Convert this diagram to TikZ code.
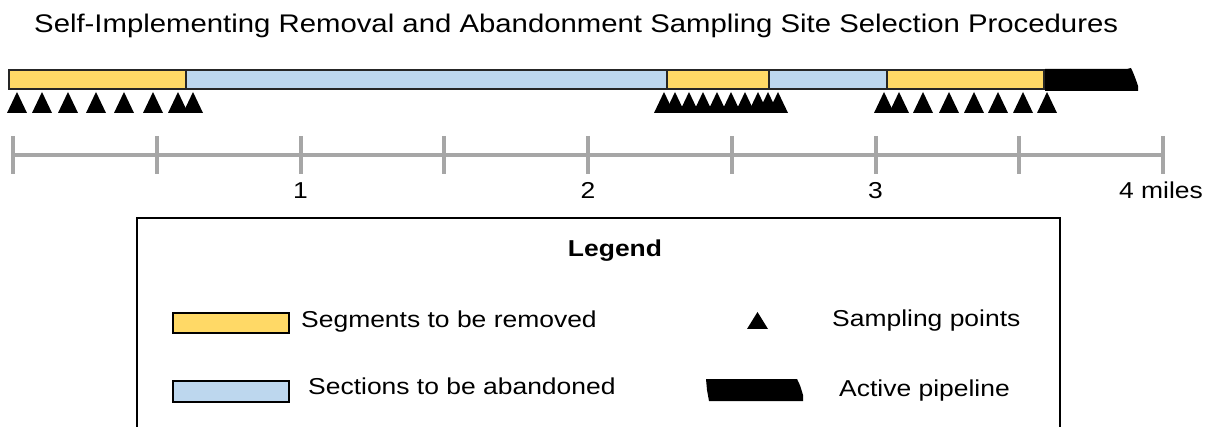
\documentclass[tikz,border=0pt]{standalone}
\usepackage{fontspec}
\setmainfont{Liberation Sans}
\usepackage{graphicx}
\usepackage{tikz}
\usetikzlibrary{positioning,calc}
\definecolor{remyellow}{HTML}{FFD966}
\definecolor{abnblue}{HTML}{BDD7EE}
\definecolor{scalegray}{HTML}{A6A6A6}
\newcommand{\wide}[1]{\scalebox{1.15}[1]{#1}}
\tikzset{
  txt/.style={font=\fontsize{23}{27}\selectfont, inner sep=0pt},
  remseg/.style={fill=remyellow, draw=black!85, line width=2pt},
  abnseg/.style={fill=abnblue, draw=black!85, line width=2pt},
  scaletick/.style={draw=scalegray, line width=4pt},
}

\begin{document}
\begin{tikzpicture}[x=1pt,y=-1pt]
    \useasboundingbox (0,0) rectangle (1207,427);
    \node [txt, font=\fontsize{25.5}{30}\selectfont, anchor=base west] (title) at (34,33) {\wide{Self-Implementing Removal and Abandonment Sampling Site Selection Procedures}};

    % pipeline
    \filldraw [remseg] (9,70) rectangle (186,89);
    \filldraw [abnseg] (186,70) rectangle (667,89);
    \filldraw [remseg] (667,70) rectangle (769,89);
    \filldraw [abnseg] (769,70) rectangle (887,89);
    \filldraw [remseg] (887,70) rectangle (1044,89);
    \fill (1045,69) -- (1127,69) -- (1131,68) .. controls (1134,74) and (1136,80) .. (1138,86) -- (1138,91) -- (1045,91) -- cycle;

    % sampling points
    \foreach \x in {17,42,68,96,124,153,178,193,
                    664,675,689,703,717,731,745,758,768,778,
                    884,899,923,949,974,998,1023,1047}
        \fill (\x-10,113) -- (\x,92) -- (\x+10,113) -- cycle;

    % scale
    \draw [scaletick] (13,155) -- (1163,155);
    \foreach \i in {0,...,8}
        \draw [scaletick] (13+143.75*\i,136) -- (13+143.75*\i,174);
    \node [txt, anchor=base] (mi1) at (300.5,199) {\wide{1}};
    \node [txt, anchor=base] (mi2) at (588,199) {\wide{2}};
    \node [txt, anchor=base] (mi3) at (875.5,199) {\wide{3}};
    \node [txt, anchor=base] (mi4) at (1161,199) {\wide{4 miles}};

    % legend
    \draw [line width=2.5pt] (137,428) -- (137,218) -- (1060,218) -- (1060,428);
    \node [txt, font=\fontsize{23}{27}\selectfont\bfseries, anchor=base] (legend) at (615,257) {\wide{Legend}};
    \filldraw [remseg, draw=black, line width=2.5pt] (173,313) rectangle (289,333);
    \node [txt, anchor=base west] (remlbl) at (301,328) {\wide{Segments to be removed}};
    \filldraw [abnseg, draw=black, line width=2.5pt] (173,381) rectangle (289,402);
    \node [txt, anchor=base west] (abnlbl) at (308,395) {\wide{Sections to be abandoned}};
    \fill (747,329) -- (757.5,312) -- (768,329) -- cycle;
    \node [txt, anchor=base west] (samplbl) at (832,327) {\wide{Sampling points}};
    \fill (706,379) -- (797,379) .. controls (800,385) .. (803,395) -- (803,401) -- (709,401) -- (707,390) -- cycle;
    \node [txt, anchor=base west] (actlbl) at (839,396) {\wide{Active pipeline}};
\end{tikzpicture}
\end{document}
